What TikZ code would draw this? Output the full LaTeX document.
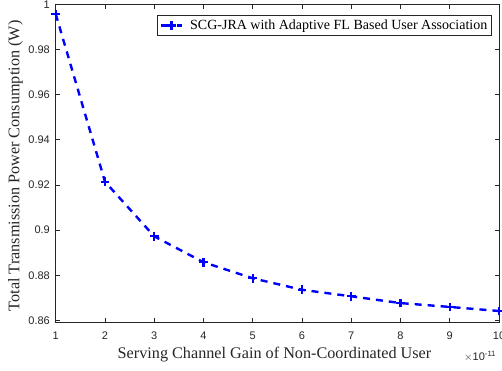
\documentclass[tikz,border=0pt]{standalone}
\usepackage{fontspec}
\setmainfont{Liberation Serif}
\setsansfont{Liberation Sans}
\definecolor{axgray}{RGB}{38,38,38}
\definecolor{plotblue}{RGB}{0,0,255}

\tikzset{
  axisline/.style={draw=axgray, line width=1.1pt},
  tickline/.style={draw=axgray, line width=0.9pt},
  ticklabel/.style={font=\sffamily\fontsize{11}{13}\selectfont, text=axgray, inner sep=0pt},
  axislabel/.style={font=\fontsize{16.2}{18}\selectfont, text=axgray, inner sep=0pt},
  dataline/.style={draw=plotblue, line width=2.4pt, dash pattern=on 7pt off 6pt},
  plusmark/.style={draw=plotblue, line width=2.3pt},
  legendbox/.style={draw=axgray, line width=0.9pt, fill=white, minimum width=334.4pt, minimum height=20.7pt, inner sep=0pt},
  legendtext/.style={font=\fontsize{14}{16}\selectfont, text=black, inner sep=0pt, anchor=west}
}

\begin{document}
\begin{tikzpicture}[x=1pt,y=1pt]
\useasboundingbox (0,0) rectangle (502,371);

% data frame: x in [1,10], y in [0.859,1]
\begin{scope}[x=49.26pt, y=2257pt, shift={(6.44pt,-1890.5pt)}]
  % axes box corners
  \coordinate (bl) at (1,0.859);
  \coordinate (tr) at (10,1);

  % x ticks (bottom and top, inward) with labels
  \foreach \i in {1,...,10} {
    \coordinate (xb\i) at (\i,0.859);
    \coordinate (xt\i) at (\i,1);
    \draw[tickline] (xb\i) -- ++(0,4.5pt);
    \draw[tickline] (xt\i) -- ++(0,-4.5pt);
    \node[ticklabel] (xl\i) at ([yshift=-13pt]xb\i) {\i};
  }

  % y ticks (left and right, inward) with labels
  \foreach \v/\t [count=\j] in {0.86/0.86,0.88/0.88,0.90/0.9,0.92/0.92,0.94/0.94,0.96/0.96,0.98/0.98,1.00/1} {
    \coordinate (yl\j) at (1,\v);
    \coordinate (yr\j) at (10,\v);
    \draw[tickline] (yl\j) -- ++(4.5pt,0);
    \draw[tickline] (yr\j) -- ++(-4.5pt,0);
    \node[ticklabel, anchor=east] (ylab\j) at ([xshift=-5.7pt]yl\j) {\t};
  }

  % data points
  \coordinate (d1) at (1,0.9958);
  \coordinate (d2) at (2,0.9215);
  \coordinate (d3) at (3,0.8973);
  \coordinate (d4) at (4,0.8858);
  \coordinate (d5) at (5,0.8787);
  \coordinate (d6) at (6,0.8736);
  \coordinate (d7) at (7,0.8707);
  \coordinate (d8) at (8,0.8677);
  \coordinate (d9) at (9,0.8660);
  \coordinate (d10) at (10,0.8642);
\end{scope}

% axes box
\draw[axisline] (bl) rectangle (tr);

% curve and markers
\draw[dataline] (d1) -- (d2) -- (d3) -- (d4) -- (d5) -- (d6) -- (d7) -- (d8) -- (d9) -- (d10);
\foreach \k in {1,...,10} {
  \draw[plusmark] ([xshift=-4.3pt]d\k) -- ([xshift=4.3pt]d\k)
                  ([yshift=-4.3pt]d\k) -- ([yshift=4.3pt]d\k);
}

% axis labels
\node[axislabel] (xlabel) at (274.5,16) {Serving Channel Gain of Non-Coordinated User};
\node[axislabel, rotate=90] (ylabel) at (15.5,205) {Total Transmission Power Consumption (W)};
\node[ticklabel, anchor=west] (xscale) at (464,14.5) {$\times$10\textsuperscript{-11}};

% legend
\node[legendbox] (legend) at (324.5,345.65) {};
\coordinate (legA) at (161,345.5);
\coordinate (legB) at (182,345.5);
\coordinate (legM) at (171.5,345.5);
\draw[dataline, dash pattern=on 5.5pt off 2.5pt] (legA) -- (legB);
\draw[plusmark] ([xshift=-4.3pt]legM) -- ([xshift=4.3pt]legM)
                ([yshift=-4.3pt]legM) -- ([yshift=4.3pt]legM);
\node[legendtext] (legtext) at (190,345.3) {SCG-JRA with Adaptive FL Based User Association};
\end{tikzpicture}
\end{document}
